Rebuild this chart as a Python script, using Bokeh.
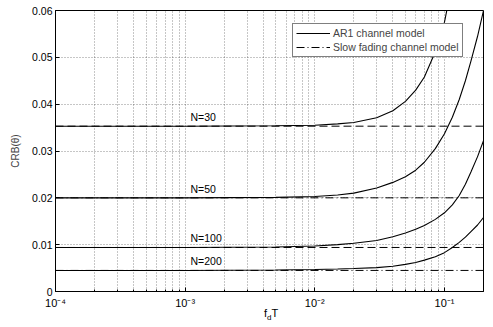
from bokeh.plotting import figure
from bokeh.models import FixedTicker, Legend, LegendItem, Div
from bokeh.layouts import column
from bokeh.core.properties import value
from bokeh.embed import file_html
from bokeh.resources import INLINE

# ---- data ----
fdT = [1e-4, 1e-3, 5e-3, 1e-2, 1.5e-2, 2e-2, 3e-2, 4e-2, 5e-2, 6e-2, 7e-2, 8.5e-2,
       0.1, 0.115, 0.13, 0.145, 0.16, 0.18, 0.2]
crb_ar1_N30 = [0.0353, 0.0353, 0.0354, 0.0355, 0.0358, 0.0361, 0.0371, 0.0386, 0.0406, 0.0430, 0.0458, 0.0512,
               0.0575, 0.0660, 0.0750, 0.0850, 0.0950, 0.1100, 0.1250]
crb_ar1_N50 = [0.0200, 0.0200, 0.0201, 0.0203, 0.0206, 0.0210, 0.0221, 0.0233, 0.0245, 0.0259, 0.0276, 0.0305,
               0.0337, 0.0372, 0.0410, 0.0450, 0.0492, 0.0545, 0.0600]
crb_ar1_N100 = [0.0094, 0.0094, 0.0095, 0.0097, 0.0100, 0.0103, 0.0109, 0.0117, 0.0125, 0.0133, 0.0141, 0.0154,
                0.0168, 0.0185, 0.0205, 0.0229, 0.0255, 0.0288, 0.0322]
crb_ar1_N200 = [0.0045, 0.0045, 0.0046, 0.0047, 0.0048, 0.0049, 0.0051, 0.0054, 0.0058, 0.0062, 0.0067, 0.0074,
                0.0083, 0.0094, 0.0105, 0.0116, 0.0128, 0.0142, 0.0158]

N_labels = ["N=30", "N=50", "N=100", "N=200"]
crb_slow = [0.0353, 0.0200, 0.0094, 0.0045]
label_x = 1.1e-3

x_ticks = [1e-4, 1e-3, 1e-2, 1e-1]
x_tick_labels = ["10\u207b\u2074", "10\u207b\u00b3", "10\u207b\u00b2", "10\u207b\u00b9"]
y_ticks = [0, 0.01, 0.02, 0.03, 0.04, 0.05, 0.06]
y_tick_labels = ["0", "0.01", "0.02", "0.03", "0.04", "0.05", "0.06"]

FONT = "Liberation Sans"

p = figure(width=485, height=311, x_axis_type="log", x_range=(1e-4, 0.2), y_range=(0, 0.06),
           output_backend="svg", toolbar_location=None,
           min_border_left=55, min_border_right=2, min_border_top=10, min_border_bottom=20)
p.background_fill_color = "white"
p.border_fill_color = "white"
p.outline_line_color = "black"
p.outline_line_width = 1

minor = [m * t for t in [1e-4, 1e-3, 1e-2, 1e-1] for m in range(2, 10)]
p.xaxis.ticker = FixedTicker(ticks=x_ticks, minor_ticks=minor)
p.yaxis.ticker = FixedTicker(ticks=y_ticks)
p.xaxis.major_label_overrides = dict(zip(x_ticks, x_tick_labels))
p.yaxis.major_label_overrides = dict(zip(y_ticks, y_tick_labels))

for ax in (p.xaxis, p.yaxis):
    ax.major_tick_in = 4
    ax.major_tick_out = 0
    ax.minor_tick_in = 2
    ax.minor_tick_out = 0
    ax.axis_line_color = "black"
    ax.major_tick_line_color = "black"
    ax.major_label_text_font = FONT
    ax.major_label_text_color = "black"
p.yaxis.major_label_text_font_size = "10.5px"
p.xaxis.major_label_text_font_size = "11px"
p.yaxis.minor_tick_line_color = None
p.yaxis.major_label_standoff = 3
p.xaxis.major_label_standoff = 5
p.yaxis.axis_label = "CRB(\u03b8)"
p.yaxis.axis_label_text_font = FONT
p.yaxis.axis_label_text_font_size = "10px"
p.yaxis.axis_label_text_font_style = "normal"
p.yaxis.axis_label_standoff = 8

p.xgrid.grid_line_color = "black"
p.xgrid.grid_line_alpha = 0.45
p.xgrid.grid_line_dash = "1 2"
p.xgrid.minor_grid_line_color = "black"
p.xgrid.minor_grid_line_alpha = 0.45
p.xgrid.minor_grid_line_dash = "1 2"
p.ygrid.grid_line_color = "black"
p.ygrid.grid_line_alpha = 0.45
p.ygrid.grid_line_dash = "1 2"

# slow fading (constant) lines
dashes = ["8 4", "8 3 1 3", "8 4", "8 3 1 3"]
slow_renderers = []
for lvl, d in zip(crb_slow, dashes):
    r = p.line([fdT[0], fdT[-1]], [lvl, lvl], line_color="black", line_width=1, line_dash=d)
    slow_renderers.append(r)

ar1_renderers = []
for ys in (crb_ar1_N30, crb_ar1_N50, crb_ar1_N100, crb_ar1_N200):
    r = p.line(fdT, ys, line_color="black", line_width=1.1)
    ar1_renderers.append(r)

p.text(x=[label_x] * 4, y=crb_slow, text=N_labels, text_baseline="bottom", text_align="left",
       y_offset=-3, text_font=value(FONT), text_font_size="10.5px", text_color="black")

legend = Legend(items=[LegendItem(label="AR1 channel model", renderers=[ar1_renderers[0]]),
                       LegendItem(label="Slow fading channel model", renderers=[slow_renderers[1]])],
                location=(237, 234))
legend.label_text_font = FONT
legend.label_text_font_size = "10.5px"
legend.glyph_width = 34
legend.glyph_height = 12
legend.label_height = 12
legend.spacing = 2
legend.padding = 3
legend.margin = 0
legend.label_standoff = 3
legend.border_line_color = "black"
legend.border_line_width = 1
legend.background_fill_alpha = 1
p.add_layout(legend)

# x-axis label f_d T as real text under the plot
xlabel = Div(text=('<div style="margin-left:264px; font-family:\'Liberation Sans\'; font-size:11px; '
                   'line-height:12px; color:#000; white-space:nowrap">f<sub style="font-size:8px; '
                   'line-height:8px">d</sub>T</div>'),
             width=485, height=14, margin=(-6, 0, 0, 0))

layout = column(p, xlabel, spacing=0)
open("out.html", "w").write(file_html(layout, INLINE))
